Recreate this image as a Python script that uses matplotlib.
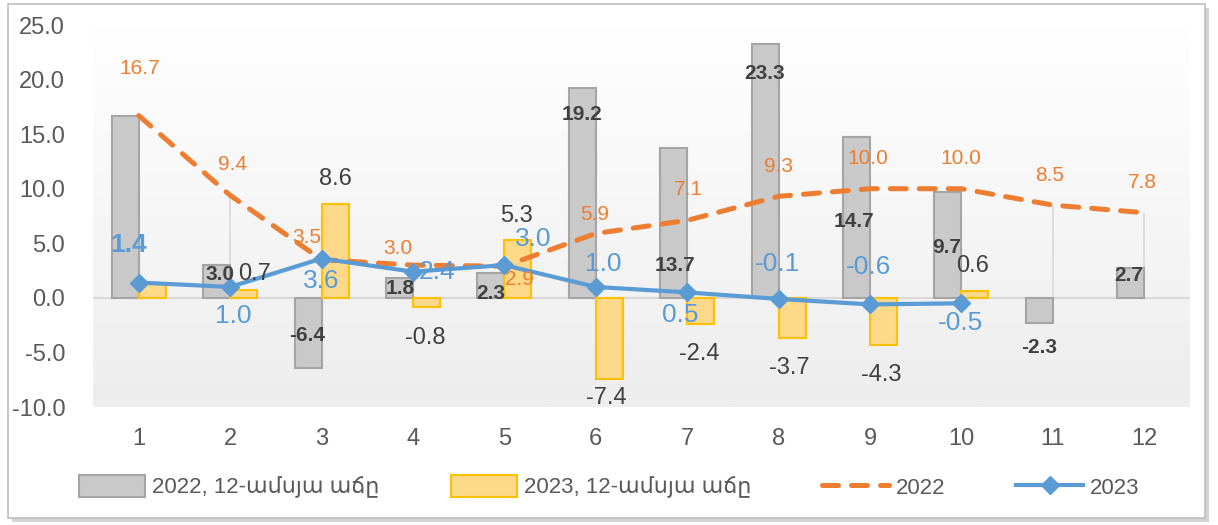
import numpy as np
import matplotlib
matplotlib.use("Agg")
import matplotlib.pyplot as plt
from matplotlib.patches import Rectangle, Patch
from matplotlib.lines import Line2D
from matplotlib.colors import LinearSegmentedColormap


# ---------------------------
# Data
# ---------------------------

months = [1, 2, 3, 4, 5, 6, 7, 8, 9, 10, 11, 12]

bars_2022 = [16.7, 3.0, -6.4, 1.8, 2.3, 19.2, 13.7, 23.3, 14.7, 9.7, -2.3, 2.7]
bars_2023 = [1.4, 0.7, 8.6, -0.8, 5.3, -7.4, -2.4, -3.7, -4.3, 0.6]

line_2022 = [16.7, 9.4, 3.5, 3.0, 2.9, 5.9, 7.1, 9.3, 10.0, 10.0, 8.5, 7.8]
line_2023 = [1.4, 1.0, 3.6, 2.4, 3.0, 1.0, 0.5, -0.1, -0.6, -0.5]

legend_labels = ["2022, 12-ամսյա աճը", "2023, 12-ամսյա աճը", "2022", "2023"]

y_ticks = [-10, -5, 0, 5, 10, 15, 20, 25]


# ---------------------------
# Label offsets (pixels), hand placed like the original
# ---------------------------

off_line_2022 = [(1, 47), (2, 31), (-15, 22), (-15, 17), (15, -13), (-1, 19),
                 (1, 31), (0, 30), (-2, 30), (-1, 30), (-3, 30), (-2, 30)]
off_bars_2022 = [None, (3, -9), (-1, 32), (1, -10), (0, -21), (0, -26),
                 (1, -117), (-1, -30), (-3, -84), (-1, -56), (0, -25), (-2, -7)]
off_bars_2023 = [None, (11, 16), (0, 25), (-1, -31), (-1, 24), (-3, -19),
                 (-1, -30), (-3, -30), (-2, -30), (-2, 25)]
off_line_2023 = [(-10, 38), (3, -29), (0, -22), (24, 0), (29, 26), (7, 23),
                 (-7, -23), (-1, 35), (-2, 37), (-1, -20)]


# ---------------------------
# Style
# ---------------------------

plt.rcParams["font.family"] = ["Liberation Sans", "DejaVu Sans"]

GRAY_FILL = "#c9c9c9"
GRAY_EDGE = "#a5a5a5"
YELLOW_FILL = "#ffd98a"
YELLOW_EDGE = "#ffc000"
ORANGE = "#ed7d31"
BLUE = "#5b9bd5"
TEXT = "#404040"
TICK = "#595959"


fig = plt.figure(figsize=(12.18, 5.25), dpi=100)
fig.patch.set_facecolor("white")

# chart frame with a soft shadow
fig.patches.append(Rectangle((12 / 1218, 3 / 525), 1197 / 1218, 514 / 525,
                             transform=fig.transFigure, facecolor="#d4d4d4",
                             edgecolor="none", zorder=-2))
fig.patches.append(Rectangle((8 / 1218, 7 / 525), 1197 / 1218, 514 / 525,
                             transform=fig.transFigure, facecolor="white",
                             edgecolor="#bfbfbf", linewidth=1.2, zorder=-1))

ax = fig.add_axes([93 / 1218, 1 - 407 / 525, 1097 / 1218, 382 / 525])
ax.set_zorder(2)
ax.patch.set_alpha(0)

# background gradient of the plot area
grad_cmap = LinearSegmentedColormap.from_list("bg", ["#ffffff", "#ededed"])
ax.imshow(np.linspace(0, 1, 256).reshape(-1, 1), cmap=grad_cmap,
          extent=[0, 1, 0, 1], transform=ax.transAxes, aspect="auto",
          origin="upper", zorder=0)

x = np.array(months, dtype=float)
x23 = x[:len(bars_2023)]
w = 0.295

# drop lines of the 2022 line
ax.vlines(x, 0, line_2022, color="#d9d9d9", linewidth=1.2, zorder=1)

ax.axhline(0, color="#d9d9d9", linewidth=1.5, zorder=1)

b22 = ax.bar(x - w / 2, bars_2022, width=w, color=GRAY_FILL,
             edgecolor=GRAY_EDGE, linewidth=1.5, zorder=2)
b23 = ax.bar(x23 + w / 2, bars_2023, width=w, color=YELLOW_FILL,
             edgecolor=YELLOW_EDGE, linewidth=1.5, zorder=2)

ax.plot(x, line_2022, color=ORANGE, linewidth=3.6, linestyle=(0, (3.2, 2.6)),
        dash_capstyle="round", zorder=3)
ax.plot(x23, line_2023, color=BLUE, linewidth=3.0, marker="D", markersize=9,
        zorder=4)


# ---------------------------
# Data labels
# ---------------------------

def put(xv, yv, val, off, **kw):
    ax.annotate(f"{val:.1f}", (xv, yv), xytext=off, textcoords="offset pixels",
                ha="center", va="center", zorder=6, **kw)


for i, v in enumerate(line_2022):
    put(x[i], v, v, off_line_2022[i], color=ORANGE, fontsize=15)

for i, v in enumerate(bars_2022):
    if off_bars_2022[i] is not None:
        put(x[i] - w / 2, v, v, off_bars_2022[i], color=TEXT, fontsize=15,
            fontweight="bold")

for i, v in enumerate(bars_2023):
    if off_bars_2023[i] is not None:
        put(x23[i] + w / 2, v, v, off_bars_2023[i], color=TEXT, fontsize=17)

for i, v in enumerate(line_2023):
    put(x23[i], v, v, off_line_2023[i], color=BLUE, fontsize=19,
        fontweight="bold" if i == 0 else "normal")


# ---------------------------
# Axes
# ---------------------------

ax.set_xlim(0.5, 12.5)
ax.set_ylim(-10, 25)
ax.set_xticks(x)
ax.set_xticklabels([str(m) for m in months])
ax.set_yticks(y_ticks)
ax.set_yticklabels([f"{t:.1f}" for t in y_ticks])
ax.tick_params(axis="both", length=0, labelsize=17, colors=TICK)
ax.tick_params(axis="y", pad=20)
ax.tick_params(axis="x", pad=15)
for s in ax.spines.values():
    s.set_visible(False)


# ---------------------------
# Legend
# ---------------------------

handles = [
    Patch(facecolor=GRAY_FILL, edgecolor=GRAY_EDGE, linewidth=1.5),
    Patch(facecolor=YELLOW_FILL, edgecolor=YELLOW_EDGE, linewidth=1.5),
    Line2D([], [], color=ORANGE, linewidth=3.6, linestyle=(0, (3.2, 2.6)),
           dash_capstyle="round"),
    Line2D([], [], color=BLUE, linewidth=3.0, marker="D", markersize=9),
]
fig.legend(handles, legend_labels, loc="center", ncol=4,
           bbox_to_anchor=(0.5, 1 - 487 / 525), frameon=False, fontsize=16,
           labelcolor=TICK, handlelength=3.0, handleheight=1.1,
           handletextpad=0.3, columnspacing=3.2)

fig.savefig("out.png", dpi=100, facecolor="white")
plt.close(fig)
